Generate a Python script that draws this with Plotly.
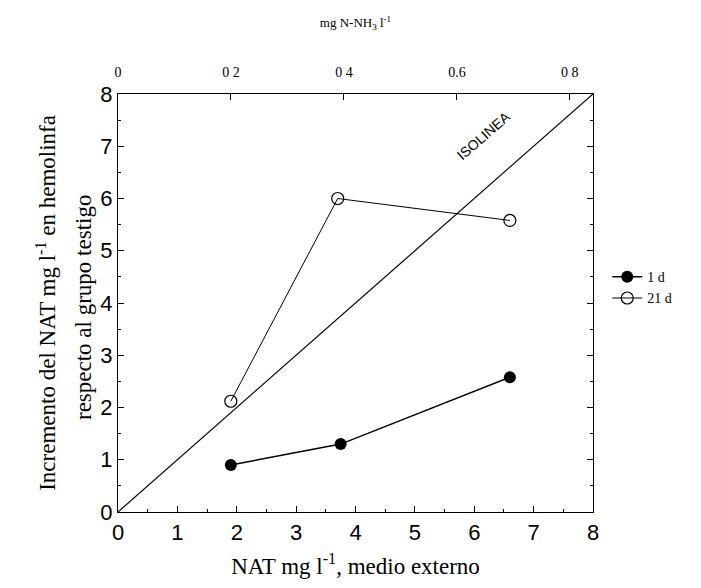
import plotly.graph_objects as go

x_1d = [1.9, 3.75, 6.6]
y_1d = [0.9, 1.3, 2.58]
x_21d = [1.9, 3.7, 6.6]
y_21d = [2.12, 6.0, 5.58]
iso_x = [0, 8]
iso_y = [0, 8]
top_ticks = [0, 0.2, 0.4, 0.6, 0.8]
top_labels = ["0", "0 2", "0 4", "0.6", "0 8"]

serif = "Liberation Serif, Times New Roman, serif"
sans = "Liberation Sans, Arial, sans-serif"

fig = go.Figure()
fig.add_trace(go.Scatter(x=iso_x, y=iso_y, mode="lines", line=dict(color="black", width=1.2),
                         showlegend=False, hoverinfo="skip"))
fig.add_trace(go.Scatter(x=x_1d, y=y_1d, mode="lines+markers", name="1 d",
                         line=dict(color="black", width=1.5),
                         marker=dict(symbol="circle", size=12, color="black")))
fig.add_trace(go.Scatter(x=x_21d, y=y_21d, mode="lines+markers", name="21 d",
                         line=dict(color="black", width=1),
                         marker=dict(symbol="circle-open", size=12, color="black", line=dict(width=1.2))))
# dummy trace for top axis
fig.add_trace(go.Scatter(x=[0], y=[0], xaxis="x2", mode="markers", marker=dict(opacity=0),
                         showlegend=False, hoverinfo="skip"))

fig.add_annotation(x=6.15, y=7.2, text="ISOLINEA", showarrow=False, textangle=-41,
                   font=dict(family=sans, size=14, color="black"))

# left axis title (two lines)
fig.add_annotation(xref="paper", yref="paper", x=-0.152, y=0.5, xanchor="center", yanchor="middle",
                   text="Incremento del NAT mg l<sup>-1</sup> en hemolinfa", showarrow=False, textangle=-90,
                   font=dict(family=serif, size=23, color="black"))
fig.add_annotation(xref="paper", yref="paper", x=-0.074, y=0.49, xanchor="center", yanchor="middle",
                   text="respecto al grupo testigo", showarrow=False, textangle=-90,
                   font=dict(family=serif, size=23, color="black"))

fig.update_layout(
    width=701, height=588,
    margin=dict(l=110, r=116, t=86, b=84),
    plot_bgcolor="white", paper_bgcolor="white",
    showlegend=True,
    legend=dict(x=1.03, y=0.60, xanchor="left", yanchor="top",
                font=dict(family=serif, size=14, color="black"),
                bgcolor="rgba(0,0,0,0)", tracegroupgap=2),
    xaxis=dict(range=[0, 8], dtick=1, showgrid=False, zeroline=False,
               showline=True, linecolor="black", linewidth=1.2, mirror=False,
               ticks="inside", ticklen=6, tickcolor="black",
               minor=dict(ticks="inside", ticklen=3, dtick=0.5, tickcolor="black"),
               tickfont=dict(family=sans, size=22, color="black"),
               title=dict(text="NAT mg l<sup>-1</sup>, medio externo",
                          font=dict(family=serif, size=23, color="black"), standoff=14)),
    yaxis=dict(range=[0, 8], dtick=1, showgrid=False, zeroline=False,
               showline=True, linecolor="black", linewidth=1.2, mirror="ticks",
               ticks="inside", ticklen=6, tickcolor="black",
               minor=dict(ticks="inside", ticklen=3, dtick=0.5, tickcolor="black"),
               tickfont=dict(family=sans, size=22, color="black")),
    xaxis2=dict(overlaying="x", side="top", range=[0, 0.841], tickvals=top_ticks, ticktext=top_labels,
                showgrid=False, zeroline=False, showline=True, linecolor="black", linewidth=1.2,
                ticks="inside", ticklen=6, tickcolor="black", ticklabelstandoff=10,
                tickfont=dict(family=serif, size=14, color="black"),
                title=dict(text="mg N-NH<sub>3</sub> l<sup>-1</sup>",
                           font=dict(family=serif, size=13, color="black"), standoff=34)),
)

fig.write_html("out.html")
